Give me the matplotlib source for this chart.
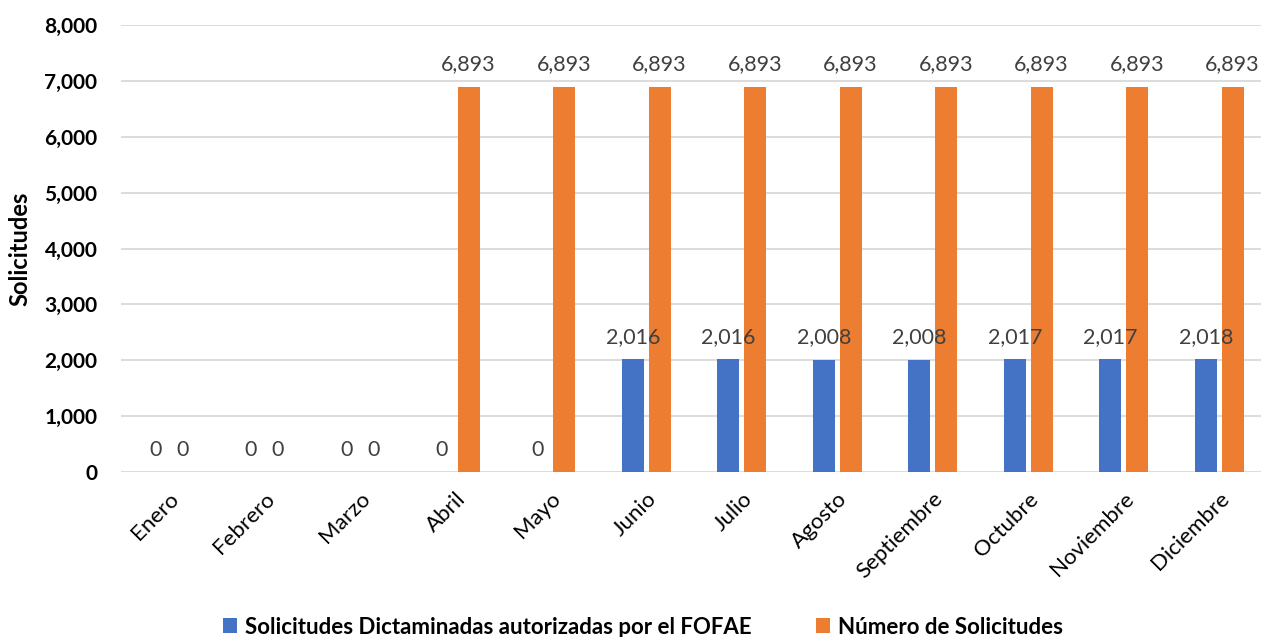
import numpy as np
import matplotlib
matplotlib.use('Agg')
import matplotlib.pyplot as plt

# Datos
meses = ['Enero', 'Febrero', 'Marzo', 'Abril', 'Mayo', 'Junio', 'Julio',
         'Agosto', 'Septiembre', 'Octubre', 'Noviembre', 'Diciembre']
dictaminadas = [0, 0, 0, 0, 0, 2016, 2016, 2008, 2008, 2017, 2017, 2018]
solicitudes = [0, 0, 0, 6893, 6893, 6893, 6893, 6893, 6893, 6893, 6893, 6893]
serie1 = 'Solicitudes Dictaminadas autorizadas por el FOFAE'
serie2 = 'Número de Solicitudes'

plt.rcParams['font.family'] = ['Lato', 'DejaVu Sans']

fig = plt.figure(figsize=(12.61, 6.37), dpi=100)
ax = fig.add_axes([121 / 1261, 165 / 637, 1146 / 1261, 447 / 637])

x = np.arange(len(meses))
w = 0.23
off = 0.14
b1 = ax.bar(x - off, dictaminadas, w, color='#4472C4', label=serie1, zorder=3)
b2 = ax.bar(x + off, solicitudes, w, color='#ED7D31', label=serie2, zorder=3)

# Etiquetas de datos
for bars in (b1, b2):
    for r in bars:
        h = r.get_height()
        ax.annotate(f'{h:,.0f}', (r.get_x() + r.get_width() / 2, h),
                    xytext=(0, 9), textcoords='offset points',
                    ha='center', va='bottom', fontsize=15.5, color='#404040', zorder=4)

ax.set_xlim(-0.5, len(meses) - 0.5)
ax.set_ylim(0, 8000)
ax.set_yticks(np.arange(0, 8001, 1000))
ax.set_yticklabels([f'{v:,}' for v in range(0, 8001, 1000)], fontsize=15, fontweight='bold')
ax.set_xticks(x)
ax.set_xticklabels(meses, rotation=45, ha='right', rotation_mode='anchor', fontsize=16)
ax.tick_params(axis='both', length=0)
ax.tick_params(axis='y', pad=17)
ax.tick_params(axis='x', pad=12)
ax.grid(axis='y', color='#D9D9D9', linewidth=1.3, zorder=0)
for s in ax.spines.values():
    s.set_visible(False)
ax.set_ylabel('Solicitudes', fontsize=17, fontweight='bold')
ax.yaxis.set_label_coords(-0.078, 0.5)

leg = fig.legend(handles=[b1, b2], loc='center', bbox_to_anchor=(643 / 1261, 1 - 627 / 637),
                 ncol=2, frameon=False, handlelength=0.65, handleheight=0.65,
                 columnspacing=2.9, handletextpad=0.35,
                 prop={'size': 16, 'weight': 'bold'})

fig.savefig('out.png', dpi=100)
